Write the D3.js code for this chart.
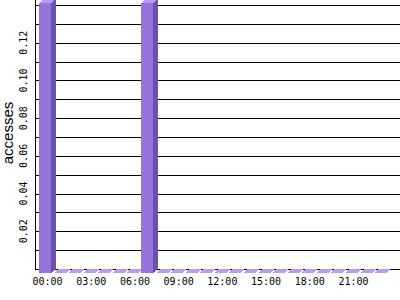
<!DOCTYPE html>
<meta charset="utf-8">
<html lang="en">
<head>
    <meta charset="UTF-8">
    <title>D3</title>
    <script src="https://d3js.org/d3.v7.min.js"></script>
    <style>
        body { margin: 0; background: #fff; }
    </style>
</head>
<body>
    <div id="viz"></div>
    <script>
        // data: accesses per hour of day
        const hours = d3.range(24);
        const accesses = [0.143, 0, 0, 0, 0, 0, 0, 0.143, 0, 0, 0, 0,
                          0, 0, 0, 0, 0, 0, 0, 0, 0, 0, 0, 0];
        const xTickHours = [0, 3, 6, 9, 12, 15, 18, 21];
        const yTickLabels = [0.02, 0.04, 0.06, 0.08, 0.10, 0.12];
        const gridValues = d3.range(1, 15).map(d => d / 100);

        const width = 400, height = 300;
        const axisX = 35, baseY = 269;
        const dx = 5, dy = 4; // 3d depth of the bars

        const svg = d3.select("#viz")
            .append("svg")
                .attr("width", width)
                .attr("height", height);

        const x = d3.scaleBand()
            .domain(hours)
            .range([37.7, 387.4])
            .paddingInner(0.18)
            .paddingOuter(0.09);

        const y = d3.scaleLinear()
            .domain([0, 0.14])
            .range([baseY, 5]);

        // horizontal grid lines
        svg.append("g")
            .selectAll("line")
            .data(gridValues)
            .join("line")
                .attr("x1", axisX)
                .attr("x2", width)
                .attr("y1", d => Math.round(y(d)) + 0.5)
                .attr("y2", d => Math.round(y(d)) + 0.5)
                .attr("stroke", "#000")
                .attr("stroke-width", 1);

        // axis lines
        svg.append("line")
            .attr("x1", axisX + 0.5).attr("x2", axisX + 0.5)
            .attr("y1", 0).attr("y2", baseY + 0.5)
            .attr("stroke", "#000");
        svg.append("line")
            .attr("x1", axisX).attr("x2", width)
            .attr("y1", baseY + 0.5).attr("y2", baseY + 0.5)
            .attr("stroke", "#000");

        const data = hours.map((h, i) => ({ hour: h, value: accesses[i] }));
        const bars = svg.append("g")
            .attr("shape-rendering", "crispEdges")
            .selectAll("g")
            .data(data)
            .join("g");

        const bw = 12;
        const bx = d => Math.round(x(d.hour));
        const by = d => Math.round(y(d.value));

        // front face
        bars.filter(d => d.value > 0)
            .append("rect")
                .attr("x", bx)
                .attr("y", d => by(d) + dy)
                .attr("width", bw)
                .attr("height", d => y(0) - by(d))
                .attr("fill", "#9673dc");

        // side face
        bars.filter(d => d.value > 0)
            .append("path")
                .attr("d", d => {
                    const x0 = bx(d) + bw, yt = by(d) + dy, yb = y(0) + dy;
                    return `M${x0},${yt}L${x0 + dx},${yt - dy}L${x0 + dx},${yb - dy}L${x0},${yb}Z`;
                })
                .attr("fill", "#6c52a8");

        // top face
        bars.append("path")
            .attr("d", d => {
                const x0 = bx(d), yt = by(d) + dy;
                return `M${x0},${yt}L${x0 + bw},${yt}L${x0 + bw + dx},${yt - dy}L${x0 + dx},${yt - dy}Z`;
            })
            .attr("fill", "#bb99f6");

        // x tick labels
        svg.append("g")
            .selectAll("text")
            .data(xTickHours)
            .join("text")
                .attr("x", d => x(d) + (bw + dx) / 2)
                .attr("y", 285)
                .attr("text-anchor", "middle")
                .style("font-family", "DejaVu Sans Mono")
                .style("font-size", "10px")
                .text(d => d3.format("02")(d) + ":00");

        // y tick labels (rotated)
        svg.append("g")
            .selectAll("text")
            .data(yTickLabels)
            .join("text")
                .attr("transform", d => `translate(27,${y(d)}) rotate(-90)`)
                .attr("text-anchor", "middle")
                .style("font-family", "DejaVu Sans Mono")
                .style("font-size", "10px")
                .text(d => d3.format(".2f")(d));

        // y axis title
        svg.append("text")
            .attr("transform", `translate(13,133) rotate(-90)`)
            .attr("text-anchor", "middle")
            .style("font-family", "Liberation Sans")
            .style("font-size", "15px")
            .text("accesses");
    </script>
</body>
</html>
